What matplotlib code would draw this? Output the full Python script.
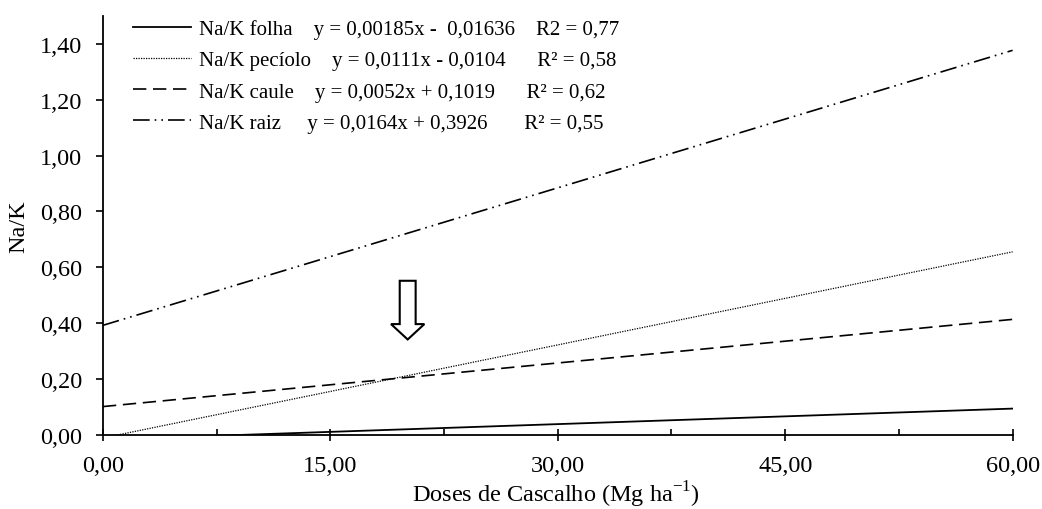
import matplotlib
matplotlib.use("Agg")
import matplotlib.pyplot as plt
import numpy as np
from matplotlib.patches import FancyArrow
from matplotlib.ticker import FuncFormatter, MultipleLocator

# Fitted regressions of Na/K against gravel dose
ORGANS = ["folha", "pecíolo", "caule", "raiz"]
SLOPES = [0.00185, 0.0111, 0.0052, 0.0164]
INTERCEPTS = [-0.01636, -0.0104, 0.1019, 0.3926]
EQUATIONS = [
    "y = 0,00185x -  0,01636",
    "y = 0,0111x - 0,0104",
    "y = 0,0052x + 0,1019",
    "y = 0,0164x + 0,3926",
]
R2_LABELS = ["R2 = 0,77", "R² = 0,58", "R² = 0,62", "R² = 0,55"]
DOSE_RANGE = [0.0, 60.0]

plt.rcParams["font.family"] = ["Liberation Serif", "DejaVu Serif"]
plt.rcParams["font.size"] = 17.5

STYLES = [
    dict(linestyle="-", linewidth=1.3),
    dict(linestyle=(0, (1, 1)), linewidth=0.9),
    dict(linestyle=(0, (8, 4)), linewidth=1.2),
    dict(linestyle=(0, (10, 3, 1, 3, 1, 3)), linewidth=1.2),
]
# spaces between the columns of each legend entry
GAP_EQ = [4, 4, 4, 5]
GAP_R2 = [4, 6, 6, 7]

fig = plt.figure(figsize=(10.42, 5.1), dpi=100)
ax = fig.add_axes([0.0988, 0.145, 0.873, 0.822])

x = np.array(DOSE_RANGE)
for organ, a, b, eq, r2, style, g1, g2 in zip(
    ORGANS, SLOPES, INTERCEPTS, EQUATIONS, R2_LABELS, STYLES, GAP_EQ, GAP_R2
):
    label = f"Na/K {organ}" + " " * g1 + eq + " " * g2 + r2
    ax.plot(x, a * x + b, color="black", label=label, **style)

ax.add_patch(
    FancyArrow(20.1, 0.552, 0, -0.21, width=1.05, head_width=2.2,
               head_length=0.055, length_includes_head=True,
               facecolor="white", edgecolor="black", linewidth=1.5, zorder=5)
)

ax.set_xlim(0, 60)
ax.set_ylim(0, 1.5)
ax.xaxis.set_major_locator(MultipleLocator(15))
ax.xaxis.set_minor_locator(MultipleLocator(7.5))
ax.set_yticks(np.arange(0, 1.41, 0.2))
fmt = FuncFormatter(lambda v, _: f"{v:.2f}".replace(".", ","))
ax.xaxis.set_major_formatter(fmt)
ax.yaxis.set_major_formatter(fmt)
ax.tick_params(axis="x", which="major", direction="inout", length=9, width=1.2, pad=10)
ax.tick_params(axis="x", which="minor", direction="in", length=4, width=1.2)
ax.tick_params(axis="y", direction="out", length=5, width=1.2, pad=10)
for side in ("top", "right"):
    ax.spines[side].set_visible(False)
for side in ("left", "bottom"):
    ax.spines[side].set_linewidth(1.3)

ax.set_xlabel("Doses de Cascalho (Mg ha$^{\\mathregular{-1}}$)", va="center")
ax.xaxis.set_label_coords(0.498, -0.141)
ax.set_ylabel("Na/K", va="center")
ax.yaxis.set_label_coords(-0.092, 0.5)

ax.legend(
    loc="upper left", bbox_to_anchor=(0.122, 0.972), bbox_transform=fig.transFigure,
    frameon=False, borderpad=0.3, borderaxespad=0, handlelength=2.75,
    handletextpad=0.4, labelspacing=0.55, fontsize=15,
)

fig.savefig("out.png", dpi=100)
